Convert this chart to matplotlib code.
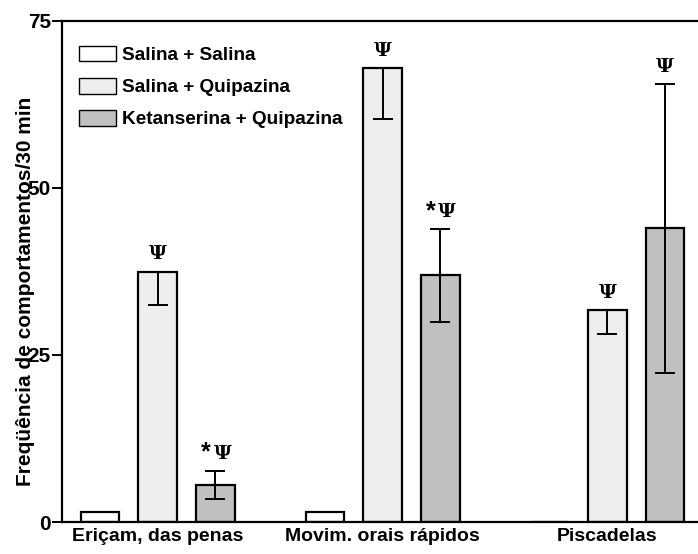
import numpy as np
import matplotlib.pyplot as plt
from matplotlib.patches import Patch

categories = ["Eriçam, das penas", "Movim. orais rápidos", "Piscadelas"]
groups = ["Salina + Salina", "Salina + Quipazina", "Ketanserina + Quipazina"]
colors = ["#ffffff", "#eeeeee", "#c0c0c0"]

sal_sal = [1.5, 1.5, 0.0]
sal_quip = [37.5, 68.0, 31.8]
ket_quip = [5.5, 37.0, 44.0]

# lower / upper error bar ends
sal_sal_lo = [1.5, 1.5, 0.0]
sal_quip_lo = [32.5, 60.3, 28.2]
ket_quip_lo = [3.5, 30.0, 22.3]
ket_quip_hi = [7.7, 43.8, 65.6]

sal_quip_marks = ["Ψ", "Ψ", "Ψ"]
ket_quip_marks = ["*Ψ", "*Ψ", "Ψ"]

plt.rcParams["font.family"] = ["Liberation Sans", "DejaVu Sans"]
plt.rcParams["font.weight"] = "bold"

fig = plt.figure(figsize=(6.98, 5.54), dpi=100)
ax = fig.add_axes([62 / 698, 32 / 554, 1 - 62 / 698, (522 - 21) / 554])

step = 3.9
centers = np.arange(len(categories)) * step
w = 0.67
series = [sal_sal, sal_quip, ket_quip]
for i, vals in enumerate(series):
    x = centers + (i - 1)
    ax.bar(x, vals, w, color=colors[i], edgecolor="black", linewidth=1.6, zorder=2)

# error bars
x1 = centers - 1
x2 = centers
x3 = centers + 1
ax.errorbar(x2, sal_quip, yerr=[np.array(sal_quip) - np.array(sal_quip_lo), np.zeros(3)],
            fmt="none", ecolor="black", elinewidth=1.4, capsize=7, capthick=1.4, zorder=3)
ax.errorbar(x3, ket_quip, yerr=[np.array(ket_quip) - np.array(ket_quip_lo),
                                 np.array(ket_quip_hi) - np.array(ket_quip)],
            fmt="none", ecolor="black", elinewidth=1.4, capsize=7, capthick=1.4, zorder=3)
ax.plot(x1[:2], sal_sal_lo[:2], "_", color="black", ms=14, mew=1.4, zorder=3)

for xx, v, m in zip(x2, sal_quip, sal_quip_marks):
    ax.text(xx, v + 1.2, m, ha="center", va="bottom", fontsize=14,
            family=["DejaVu Serif"], fontweight="bold")
for xx, v, m in zip(x3, ket_quip_hi, ket_quip_marks):
    if m.startswith("*"):
        ax.text(xx - 0.17, v + 0.9, "*", ha="center", va="bottom", fontsize=18,
                fontweight="bold")
        ax.text(xx + 0.12, v + 1.2, "Ψ", ha="center", va="bottom", fontsize=14,
                family=["DejaVu Serif"], fontweight="bold")
    else:
        ax.text(xx, v + 1.2, m, ha="center", va="bottom", fontsize=14,
                family=["DejaVu Serif"], fontweight="bold")

ax.set_xlim(centers[0] - 1.66, centers[-1] + 1.57)
ax.set_ylim(0, 75)
ax.set_yticks([0, 25, 50, 75])
ax.set_xticks(centers)
ax.set_xticklabels(categories, fontsize=14, fontweight="bold")
ax.tick_params(axis="x", length=0, pad=4)
ax.tick_params(axis="y", labelsize=15, length=7, width=1.4, direction="out", pad=1)
for lab in ax.get_yticklabels():
    lab.set_fontweight("bold")
for s in ["left", "bottom", "top"]:
    ax.spines[s].set_linewidth(1.6)
ax.spines["right"].set_visible(False)

ax.set_ylabel("Freqüência de comportamentos/30 min", fontsize=15, fontweight="bold")
ax.yaxis.set_label_coords(-0.042, 0.46)

handles = [Patch(facecolor=c, edgecolor="black", linewidth=1.0) for c in colors]
leg = ax.legend(handles, groups, loc="upper left", bbox_to_anchor=(0.0, 0.985),
                frameon=False, prop={"size": 13.7, "weight": "bold"},
                handlelength=1.95, handleheight=0.9, labelspacing=0.72, handletextpad=0.3)

fig.savefig("out.png", dpi=100)
